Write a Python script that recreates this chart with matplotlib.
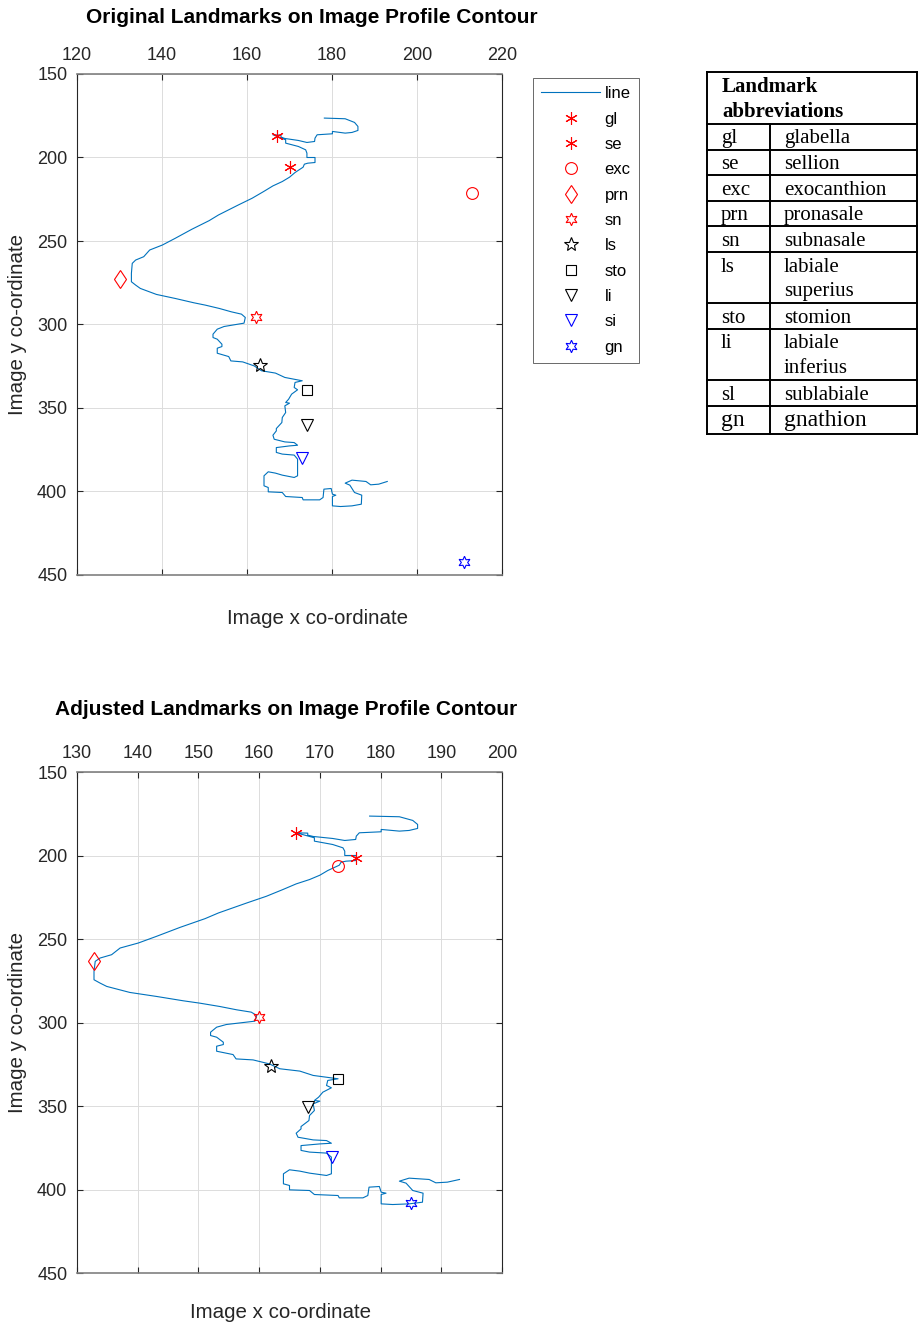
import matplotlib
matplotlib.use("Agg")
import matplotlib.pyplot as plt

plt.rcParams['font.family'] = ['Liberation Sans', 'DejaVu Sans']

# --- profile contour (x, y in image pixels) ---
contour_x = [178.2, 183.1, 185.3, 186.1, 186.1, 184.7, 183.1, 180.1, 180.1, 176.5,
             176.0, 175.9, 174.1, 172.1, 168.9, 168.0, 168.0, 166.1,
             167.5, 169.1, 169.1, 172.1, 173.8, 174.1, 174.1, 176.0, 176.0, 174.3,
             173.5, 173.2, 171.3, 170.0, 168.3, 166.1, 163.9, 161.2, 157.9, 153.3,
             151.1, 147.0, 143.1, 140.1, 137.1, 135.7, 133.8, 133.0, 132.8, 132.8,
             133.8, 134.9, 138.7, 143.1, 147.5, 150.2, 153.5, 156.3, 158.7, 159.6,
             159.3, 154.6, 153.0, 152.0, 152.0, 153.0, 154.1, 154.1, 153.0, 153.0,
             155.7, 156.2, 159.0, 161.7, 163.4, 166.7, 168.9, 173.0,
             171.3, 171.1, 171.9, 170.5, 169.8, 169.1, 170.0, 168.9, 169.1, 168.3,
             168.2, 166.9, 166.9, 166.1, 166.4, 168.9, 171.1, 171.9, 170.0, 166.9,
             166.9, 168.3, 171.1, 171.9, 171.9, 171.9, 171.1, 168.3, 166.7, 165.0,
             164.0, 164.0, 165.0, 165.0, 168.3, 169.1, 173.0, 173.2, 177.1, 177.9,
             178.1, 179.8, 180.1, 180.9, 180.1, 180.1, 182.0, 184.7, 186.9, 187.0,
             185.3, 184.2, 183.1, 184.7, 188.0, 189.1, 191.0, 193.0]
contour_y = [176.4, 176.8, 179.0, 181.4, 183.8, 185.0, 185.4, 184.4, 185.8, 186.4,
             188.4, 190.4, 191.0, 189.8, 188.6, 187.8, 186.6, 186.4,
             187.8, 189.4, 191.4, 193.4, 195.4, 197.4, 200.0, 200.0, 203.0, 203.4,
             204.0, 205.8, 209.0, 211.8, 214.4, 217.0, 220.4, 224.4, 228.5, 234.4,
             237.8, 243.0, 248.4, 252.4, 255.4, 259.4, 261.4, 263.4, 269.4, 274.4,
             276.4, 278.4, 282.0, 284.4, 287.0, 288.4, 290.4, 292.4, 293.8, 295.8,
             299.2, 301.2, 302.8, 305.8, 307.8, 308.8, 311.8, 313.2, 314.2, 317.2,
             319.2, 321.8, 322.4, 324.8, 327.7, 329.1, 331.7, 333.7,
             334.7, 337.7, 339.1, 341.7, 344.7, 346.7, 347.1, 348.7, 352.7, 355.7,
             358.7, 362.3, 363.7, 366.3, 368.7, 370.3, 370.7, 372.3, 372.7, 373.7,
             376.6, 377.6, 378.2, 380.6, 386.6, 390.6, 391.6, 390.2, 389.0, 388.2,
             390.6, 396.6, 397.6, 400.2, 400.6, 403.0, 403.6, 405.0, 405.0, 403.6,
             398.6, 398.2, 401.6, 402.2, 403.0, 408.6, 409.0, 408.6, 407.6, 402.2,
             400.6, 396.2, 395.0, 393.2, 394.0, 396.0, 395.6, 394.0]

# --- landmarks ---
landmarks = ['gl', 'se', 'exc', 'prn', 'sn', 'ls', 'sto', 'li', 'si', 'gn']
orig_x = [167.0, 170.0, 212.9, 130.0, 162.0, 163.0, 174.0, 174.0, 172.9, 211.0]
orig_y = [187.1, 205.4, 221.3, 272.8, 295.4, 324.1, 339.2, 360.2, 380.1, 442.0]
adj_x = [166.0, 176.0, 173.0, 132.8, 160.0, 161.9, 173.0, 168.0, 172.0, 185.0]
adj_y = [186.4, 201.4, 206.0, 263.4, 296.8, 326.1, 333.9, 350.7, 380.6, 408.0]

# --- abbreviation table ---
tab_abbr = ['gl', 'se', 'exc', 'prn', 'sn', 'ls', 'sto', 'li', 'sl', 'gn']
tab_name = ['glabella', 'sellion', 'exocanthion', 'pronasale', 'subnasale',
            'labiale\nsuperius', 'stomion', 'labiale\ninferius', 'sublabiale', 'gnathion']

# --- styles ---
LINE_COLOR = '#0072BD'
ASTERISK = (6, 2, 0)
HEXAGRAM = (6, 1, 0)
mk_style = [ASTERISK, ASTERISK, 'o', 'd', HEXAGRAM, '*', 's', 'v', 'v', HEXAGRAM]
mk_color = ['#ff0000'] * 5 + ['#000000'] * 3 + ['#0000ff'] * 2
mk_size = [9, 9, 8.5, 9.5, 9, 10, 7, 9, 9, 9]

W, H = 921, 1330
fig = plt.figure(figsize=(W / 100, H / 100), dpi=100)


def px_axes(left, top, right, bottom):
    return fig.add_axes([left / W, 1 - bottom / H, (right - left) / W, (bottom - top) / H])


def draw_panel(ax, lx, ly, xlim, xticks, title, title_xy, xlab_xy, ylab_xy):
    ax.plot(contour_x, contour_y, color=LINE_COLOR, lw=0.8, label='line')
    for i, name in enumerate(landmarks):
        ax.plot(lx[i], ly[i], linestyle='none', marker=mk_style[i], ms=mk_size[i],
                mfc='none', mec=mk_color[i], mew=0.8, label=name)
    ax.set_xlim(*xlim)
    ax.set_ylim(450, 150)
    ax.set_xticks(xticks)
    ax.set_yticks([150, 200, 250, 300, 350, 400, 450])
    ax.grid(True, color='#dcdcdc', lw=0.7)
    ax.set_axisbelow(True)
    ax.tick_params(direction='in', top=True, right=True, labeltop=True,
                   labelbottom=False, length=4, width=0.8, labelsize=13,
                   colors='#262626')
    ax.tick_params(axis='x', pad=7)
    ax.tick_params(axis='y', pad=7)
    for s in ['left', 'right']:
        ax.spines[s].set_color('#262626')
        ax.spines[s].set_linewidth(0.8)
    for s in ['top', 'bottom']:
        ax.spines[s].set_color('#808080')
        ax.spines[s].set_linewidth(1.2)
    ax.text(title_xy[0], title_xy[1], title, transform=ax.transAxes,
            ha='center', va='center', fontsize=15, fontweight='bold')
    ax.set_xlabel('Image x co-ordinate', fontsize=14.8, color='#262626')
    ax.xaxis.set_label_coords(*xlab_xy)
    ax.set_ylabel('Image y co-ordinate', fontsize=14.8, color='#262626')
    ax.yaxis.set_label_coords(*ylab_xy)


ax1 = px_axes(77, 74, 502, 575)
draw_panel(ax1, orig_x, orig_y, (120, 220), [120, 140, 160, 180, 200, 220],
           'Original Landmarks on Image Profile Contour',
           (0.553, 1.112), (0.565, -0.068), (-0.117, 0.5))

ax2 = px_axes(77, 772, 502, 1273)
draw_panel(ax2, adj_x, adj_y, (130, 200), [130, 140, 150, 160, 170, 180, 190, 200],
           'Adjusted Landmarks on Image Profile Contour',
           (0.492, 1.124), (0.478, -0.059), (-0.117, 0.5))

leg = ax1.legend(loc='upper left', bbox_to_anchor=(533 / W, 1 - 78 / H),
                 bbox_transform=fig.transFigure, fontsize=12, frameon=True,
                 fancybox=False, edgecolor='#262626', handlelength=3.5,
                 handletextpad=0.3, labelspacing=0.62, borderpad=0.5,
                 borderaxespad=0)
leg.get_frame().set_linewidth(0.6)

# --- table drawn in pixel coordinates ---
tab = fig.add_axes([0, 0, 1, 1])
tab.set_xlim(0, W)
tab.set_ylim(H, 0)
tab.axis('off')
tab.patch.set_alpha(0)

t_left, t_mid, t_right, t_top, t_head = 707, 770, 917, 72, 124
unit = 25.6
row_h = [unit * len(n.split('\n')) for n in tab_name]
row_h[-1] = 28
serif = ['Liberation Serif', 'DejaVu Serif']

tab.text(t_left + 15, t_top + 15, 'Landmark', fontsize=15, fontweight='bold',
         family=serif, va='center')
tab.text(t_left + 15, t_top + 40, 'abbreviations', fontsize=15, fontweight='bold',
         family=serif, va='center')

y = t_head
lw = 1.4
tab.plot([t_left, t_right], [t_top, t_top], color='k', lw=lw)
for i, (a, n) in enumerate(zip(tab_abbr, tab_name)):
    tab.plot([t_left, t_right], [y, y], color='k', lw=lw)
    fs = 17 if i == len(tab_abbr) - 1 else 15
    tab.text(t_left + 14, y + 15, a, fontsize=fs, family=serif, va='center')
    for k, part in enumerate(n.split('\n')):
        tab.text(t_mid + 14, y + 15 + k * 24.5, part, fontsize=fs, family=serif,
                 va='center')
    y += row_h[i]
tab.plot([t_left, t_right], [y, y], color='k', lw=lw)
tab.plot([t_left, t_left], [t_top, y], color='k', lw=lw)
tab.plot([t_right, t_right], [t_top, y], color='k', lw=lw)
tab.plot([t_mid, t_mid], [t_head, y], color='k', lw=lw)

fig.savefig('out.png', dpi=100)
